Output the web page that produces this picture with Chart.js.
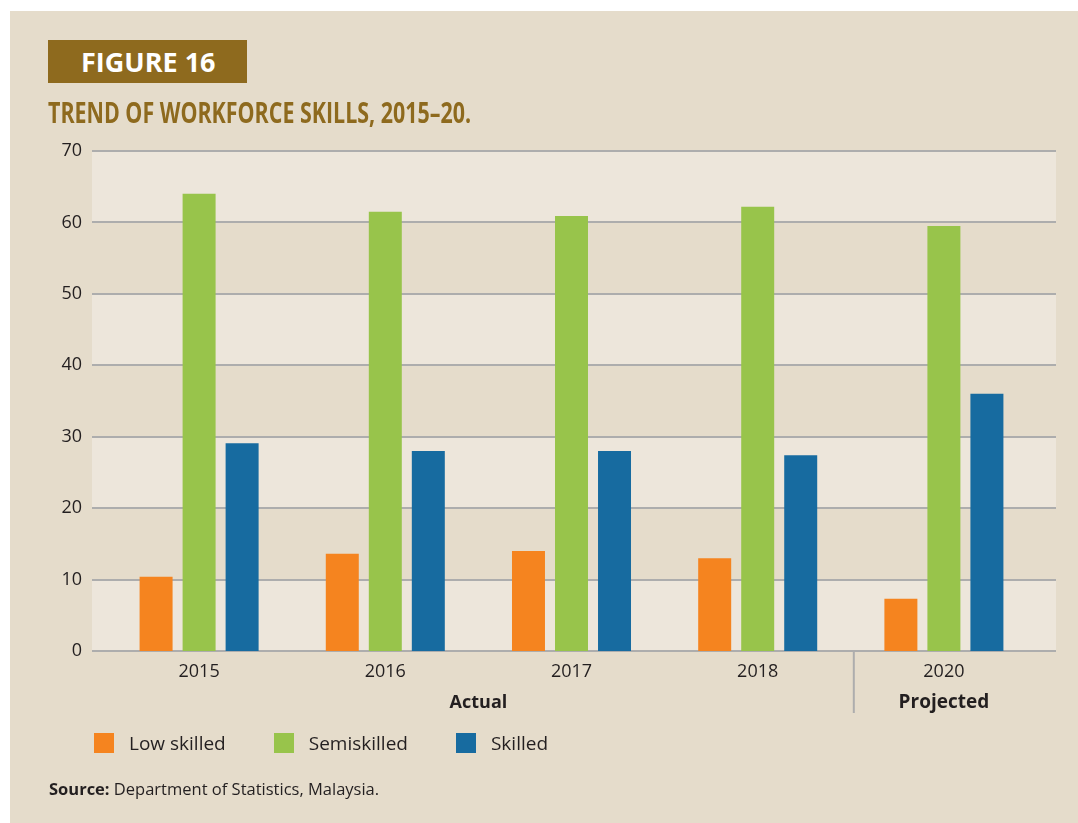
<!DOCTYPE html>
<html>
<head>
<meta charset="utf-8">
<script src="https://cdn.jsdelivr.net/npm/chart.js@4/dist/chart.umd.min.js"></script>
<style>
  body { margin: 0; background: #fff; width: 1078px; height: 823px; overflow: hidden; font-family: "Open Sans", sans-serif; }
  #panel { position: absolute; left: 10px; top: 11px; right: 0; bottom: 0; background: #E5DCCB; }
  #figbox { position: absolute; left: 48px; top: 40px; width: 199px; height: 43px; background: #8E6A1E;
            color: #fff; font: bold 27px "Open Sans"; line-height: 43px; text-indent: 33px; }
  #title { position: absolute; left: 48px; top: 92px; color: #8E6A1E; font: bold 29px "Open Sans";
           white-space: nowrap; transform-origin: 0 50%; }
  #chartwrap { position: absolute; left: 0; top: 0; width: 1078px; height: 823px; }
  #legend { position: absolute; left: 94px; top: 730px; display: flex; font-size: 19px; color: #231F20; }
  #legend .item { display: flex; align-items: center; margin-right: 48px; }
  #legend .box { width: 20px; height: 20px; margin-right: 15px; }
  #source { position: absolute; left: 49px; top: 777px; font-size: 16.5px; color: #231F20; }
</style>
</head>
<body>
<div id="panel"></div>
<div id="chartwrap"><canvas id="chart" width="1078" height="823"></canvas></div>
<div id="figbox">FIGURE 16</div>
<div id="title">TREND OF WORKFORCE SKILLS, 2015–20.</div>
<div id="legend"></div>
<div id="source"><b>Source:</b> Department of Statistics, Malaysia.</div>
<script>
// values (% of workforce)
const years = ['2015', '2016', '2017', '2018', '2020'];
const lowSkilled = [10.4, 13.6, 14.0, 13.0, 7.3];
const semiskilled = [64.0, 61.5, 60.9, 62.2, 59.5];
const skilled = [29.1, 28.0, 28.0, 27.4, 36.0];
const yTicks = [0, 10, 20, 30, 40, 50, 60, 70];
const periods = ['Actual', 'Projected'];

const gridColor = '#ADADAD';
const lightBand = '#EDE6DB';
const textColor = '#231F20';

// the original title is a condensed face, squeeze Open Sans to the same width
const title = document.getElementById('title');
title.style.transform = 'scaleX(' + (423 / title.getBoundingClientRect().width) + ')';

// striped bands + gridlines, wider than the category area
const bandsPlugin = {
    id: 'bands',
    beforeDatasetsDraw(chart) {
        const ctx = chart.ctx, y = chart.scales.y, area = chart.chartArea;
        const x0 = area.left - 14, x1 = area.right + 19;
        ctx.save();
        for (let i = 0; i < yTicks.length - 1; i += 2) {
            const top = y.getPixelForValue(yTicks[i + 1]);
            const bot = y.getPixelForValue(yTicks[i]);
            ctx.fillStyle = lightBand;
            ctx.fillRect(x0, top, x1 - x0, bot - top);
        }
        ctx.strokeStyle = gridColor;
        ctx.lineWidth = 2;
        yTicks.forEach(v => {
            const py = Math.round(y.getPixelForValue(v));
            ctx.beginPath();
            ctx.moveTo(x0, py);
            ctx.lineTo(x1, py);
            ctx.stroke();
        });
        ctx.restore();
    },
    afterDraw(chart) {
        const ctx = chart.ctx, x = chart.scales.x, area = chart.chartArea;
        const sepX = (x.getPixelForValue(3) + x.getPixelForValue(4)) / 2 + 3;
        ctx.save();
        ctx.strokeStyle = gridColor;
        ctx.lineWidth = 2;
        ctx.beginPath();
        ctx.moveTo(sepX, area.bottom);
        ctx.lineTo(sepX, area.bottom + 62);
        ctx.stroke();
        ctx.fillStyle = textColor;
        ctx.font = 'bold 18px "Open Sans"';
        ctx.textAlign = 'center';
        ctx.textBaseline = 'middle';
        ctx.fillText(periods[0], (x.getPixelForValue(0) + x.getPixelForValue(3)) / 2, area.bottom + 52);
        ctx.font = 'bold 19px "Open Sans"';
        ctx.fillText(periods[1], x.getPixelForValue(4), area.bottom + 52);
        ctx.restore();
    }
};

const chart = new Chart(document.getElementById('chart'), {
    type: 'bar',
    data: {
        labels: years,
        datasets: [
            { label: 'Low skilled', data: lowSkilled, backgroundColor: '#F5841F' },
            { label: 'Semiskilled', data: semiskilled, backgroundColor: '#98C44B' },
            { label: 'Skilled', data: skilled, backgroundColor: '#176BA0' }
        ]
    },
    options: {
        responsive: false,
        animation: false,
        devicePixelRatio: 1,
        layout: { padding: { top: 151, right: 41, left: 0, bottom: 0 } },
        datasets: { bar: { categoryPercentage: 0.693, barPercentage: 0.767 } },
        plugins: { legend: { display: false }, tooltip: { enabled: false } },
        scales: {
            x: {
                grid: { display: false, drawTicks: false },
                border: { display: false },
                ticks: { color: textColor, font: { family: 'Open Sans', size: 18 }, padding: 10 },
                afterFit(s) { s.height = 172; }
            },
            y: {
                min: 0, max: 70,
                grid: { display: false, drawTicks: false },
                border: { display: false },
                ticks: { stepSize: 10, color: textColor, font: { family: 'Open Sans', size: 18 }, padding: 24 },
                afterFit(s) { s.width = 106; }
            }
        }
    },
    plugins: [bandsPlugin]
});

// legend built from the datasets
const legend = document.getElementById('legend');
chart.data.datasets.forEach(ds => {
    const item = document.createElement('div');
    item.className = 'item';
    item.innerHTML = '<span class="box" style="background:' + ds.backgroundColor + '"></span><span>' + ds.label + '</span>';
    legend.appendChild(item);
});
</script>
</body>
</html>
